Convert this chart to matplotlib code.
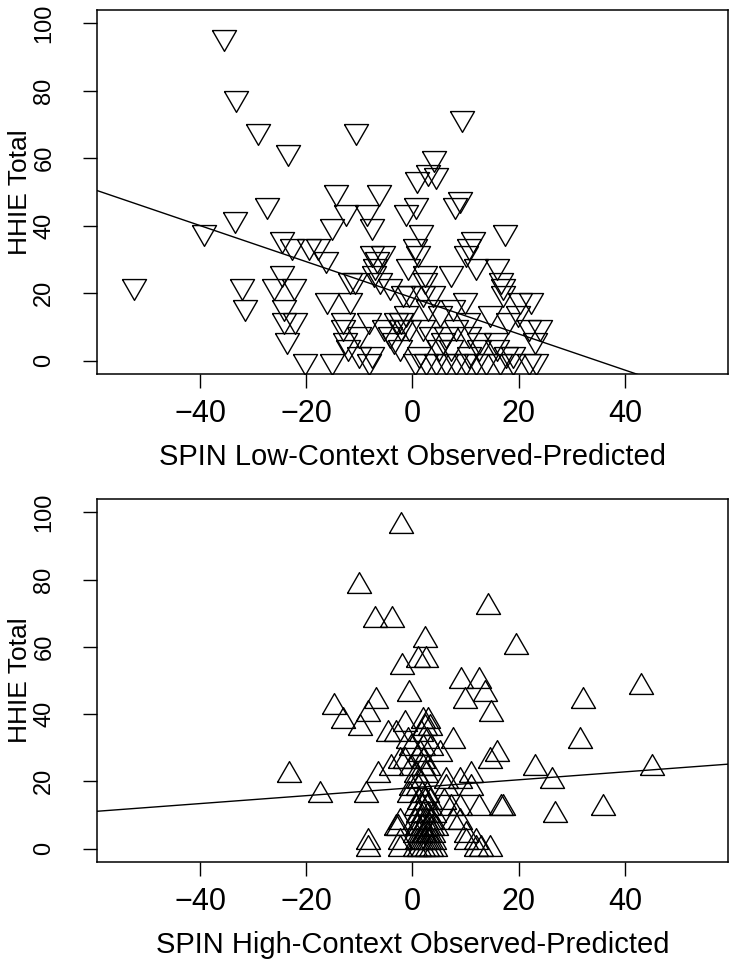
import matplotlib
matplotlib.use("Agg")
import matplotlib.pyplot as plt
import numpy as np

plt.rcParams['font.family'] = ['Liberation Sans', 'DejaVu Sans']

# SPIN low-context residuals vs HHIE total (top panel)
low_x = [-52.4, -39.2, -35.5, -33.3, -33.5, -32.1, -31.6, -29.1, -27.4, -26.0,
         -24.6, -24.5, -24.1, -24.1, -23.7, -23.4, -22.7, -22.4, -22.2, -20.2,
         -19.5, -17.8, -16.3, -16.1, -15.1, -15.1, -14.4, -13.1, -13.0, -12.8,
         -12.5, -12.2, -11.7, -11.7, -10.9, -10.7, -10.1, -10.0, -8.5, -8.1,
         -8.1, -7.6, -7.6, -7.6, -7.0, -7.2, -6.7, -6.3, -6.2, -5.6,
         -5.3, -4.3, -4.3, -3.4, -3.1, -2.4, -2.2, -2.1, -1.7, -1.2,
         -1.2, -0.9, -0.6, -0.6, 0.4, 0.4, 0.6, 0.8, 1.1, 1.3,
         1.6, 1.9, 1.9, 2.3, 2.3, 2.6, 2.9, 3.0, 3.5, 3.8,
         4.0, 4.5, 4.5, 5.0, 5.1, 5.7, 6.3, 6.3, 7.3, 7.3,
         7.6, 8.0, 8.2, 8.2, 9.0, 9.4, 9.8, 10.0, 10.1, 10.4,
         10.6, 10.7, 10.7, 11.4, 12.0, 12.0, 12.6, 12.6, 13.9, 14.5,
         15.8, 16.0, 16.0, 16.4, 16.7, 17.0, 17.0, 17.5, 17.6, 18.0,
         18.9, 19.0, 19.8, 20.2, 22.0, 22.0, 22.4, 23.0, 23.3, 24.0]
low_y = [22, 38, 96, 78, 42, 22, 16, 68, 46, 22,
         36, 26, 16, 12, 6, 62, 34, 22, 12, 0,
         34, 34, 30, 18, 40, 0, 50, 12, 10, 6,
         44, 4, 24, 18, 24, 68, 8, 2, 44, 12,
         0, 40, 32, 2, 28, 26, 30, 50, 24, 32,
         10, 22, 8, 6, 12, 4, 10, 12, 20, 44,
         14, 28, 20, 10, 0, 34, 46, 54, 32, 2,
         38, 20, 10, 26, 24, 0, 16, 56, 8, 20,
         60, 55, 0, 4, 14, 6, 8, 0, 26, 4,
         16, 46, 10, 0, 48, 72, 18, 32, 0, 12,
         34, 8, 2, 36, 28, 0, 6, 4, 0, 14,
         6, 28, 4, 0, 24, 22, 20, 38, 2, 12,
         0, 2, 14, 18, 10, 0, 18, 6, 0, 10]

# SPIN high-context residuals vs HHIE total (bottom panel)
high_x = [-23.2, -17.5, -14.8, -13.1, -10.0, -9.8, -8.7, -8.4, -8.4, -8.4,
          -7.0, -6.8, -6.5, -4.6, -4.0, -3.9, -3.1, -3.1, -2.7, -2.4,
          -2.4, -2.4, -2.4, -2.1, -1.9, -1.5, -1.5, -0.9, -0.6, -0.6,
          -0.2, -0.2, -0.2, 0.7, 1.0, 1.6, 1.9, 2.0, 2.0, 2.3,
          2.3, 2.6, 2.9, 3.5, 4.5, 5.1, 6.0, 6.3, 6.3, 7.3,
          7.6, 7.6, 8.9, 8.9, 8.9, 9.2, 9.8, 10.1, 10.1, 11.0,
          11.0, 12.0, 12.0, 12.6, 12.6, 12.9, 13.7, 14.3, 14.6, 14.6,
          14.7, 15.9, 16.7, 17.1, 19.4, 23.1, 26.3, 26.9, 31.6, 32.1,
          35.8, 43.1, 45.1,
          0.5, 1.2, 2.0, 2.8, 3.5, 4.2,
          0.8, 1.6, 2.4, 3.2, 4.0,
          0.4, 1.3, 2.2, 3.0, 3.8,
          0.9, 1.8, 2.7, 3.6,
          0.5, 1.5, 2.5, 3.4,
          1.0, 2.0, 3.0, 4.0,
          0.6, 1.7, 2.8,
          1.2, 2.3, 3.3,
          1.8, 2.8,
          1.0, 1.2, 2.5, 3.0, 1.5, 2.0, 2.7, 3.3]
high_y = [22, 16, 42, 38, 78, 36, 16, 40, 2, 0,
          68, 44, 22, 34, 24, 68, 34, 6, 6, 26,
          8, 2, 0, 96, 54, 37, 26, 32, 46, 16,
          30, 24, 18, 22, 56, 34, 38, 26, 24, 62,
          36, 56, 38, 30, 6, 28, 14, 20, 18, 12,
          32, 8, 20, 12, 8, 50, 44, 4, 2, 22,
          18, 2, 0, 50, 12, 0, 46, 72, 26, 0,
          40, 28, 12, 12, 60, 24, 20, 10, 32, 44,
          12, 48, 24,
          0, 0, 0, 0, 0, 0,
          2, 2, 2, 2, 2,
          4, 4, 4, 4, 4,
          6, 6, 6, 6,
          8, 8, 8, 8,
          10, 10, 10, 10,
          12, 12, 12,
          14, 14, 14,
          16, 16,
          18, 20, 22, 24, 28, 30, 32, 36]

# fitted lines (intercept, slope)
low_fit = (18.6, -0.536)
high_fit = (18.1, 0.118)

xlim = (-59.4, 59.4)
ylim = (-4, 104)
xticks = [-40, -20, 0, 20, 40]
yticks = [0, 20, 40, 60, 80, 100]

# equilateral triangles with centroid at the point, like R's pch 2 / pch 6
up_tri = [(-1, -0.577), (1, -0.577), (0, 1.155), (-1, -0.577)]
down_tri = [(-1, 0.577), (1, 0.577), (0, -1.155), (-1, 0.577)]

fig = plt.figure(figsize=(7.3, 9.6), dpi=100)
ax1 = fig.add_axes([97 / 730, 1 - 374 / 960, 631 / 730, 364 / 960])
ax2 = fig.add_axes([97 / 730, 1 - 862 / 960, 631 / 730, 363 / 960])


def panel(ax, x, y, marker, fit, xlabel):
    ax.plot(x, y, linestyle='none', marker=marker, markersize=20,
            markerfacecolor='none', markeredgecolor='black', markeredgewidth=1.0)
    xs = np.array(xlim)
    ax.plot(xs, fit[0] + fit[1] * xs, color='black', linewidth=1.0)
    ax.set_xlim(xlim)
    ax.set_ylim(ylim)
    ax.set_xticks(xticks)
    ax.set_yticks(yticks)
    ax.set_xticklabels([f"\u2212{abs(t)}" if t < 0 else str(t) for t in xticks])
    ax.set_yticklabels([str(t) for t in yticks], rotation=90, va='center')
    ax.tick_params(axis='both', length=10, width=1.0, direction='out')
    ax.tick_params(axis='x', pad=8, labelsize=22)
    ax.tick_params(axis='y', pad=20, labelsize=17)
    for s in ax.spines.values():
        s.set_linewidth(1.1)
    ax.set_xlabel(xlabel, fontsize=21, labelpad=10)
    ax.set_ylabel("HHIE Total", fontsize=19)
    ax.yaxis.set_label_coords(-0.103, 0.5)


panel(ax1, low_x, low_y, down_tri, low_fit, "SPIN Low-Context Observed-Predicted")
panel(ax2, high_x, high_y, up_tri, high_fit, "SPIN High-Context Observed-Predicted")

fig.savefig("out.png", dpi=100)
